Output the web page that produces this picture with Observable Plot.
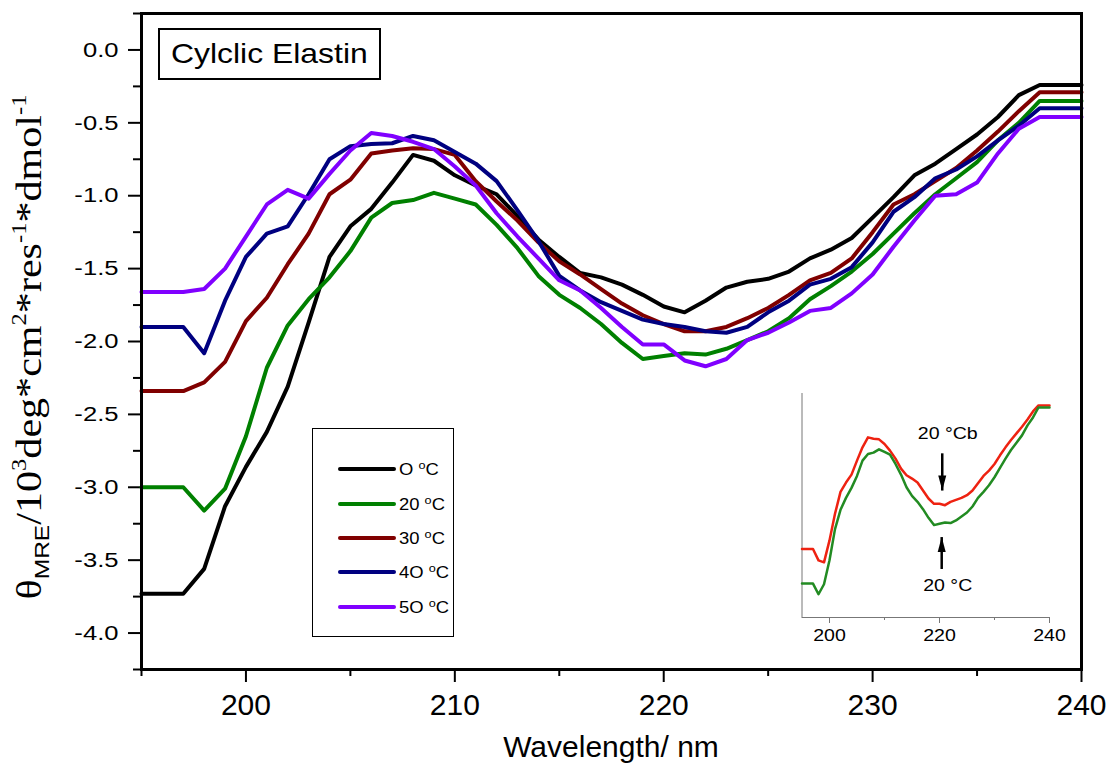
<!DOCTYPE html>
<html>
<head>
<meta charset="utf-8">
<script src="https://cdn.jsdelivr.net/npm/d3@7"></script>
<script src="https://cdn.jsdelivr.net/npm/@observablehq/plot@0.6"></script>
<style>
  body { margin: 0; background: #fff; }
  #chart { position: relative; width: 1111px; height: 768px; font-family: "Liberation Sans", Arial, sans-serif; color: #000; }
  #chart > svg { position: absolute; left: 0; top: 0; }
  .title-box { position: absolute; left: 158px; top: 28px; width: 219px; height: 48px; border: 2px solid #000; background: #fff;
    display: flex; align-items: center; justify-content: center; font-size: 28px; }
  .title-box span { display: inline-block; transform: scaleX(1.14); }
  .legend { position: absolute; left: 312px; top: 428px; width: 140px; height: 207px; border: 1.5px solid #000; background: #fff; }
  .legend .item { position: absolute; left: 25px; height: 20px; display: flex; align-items: center; }
  .legend .item span { font-size: 16px; margin-left: 3px; display: inline-block; transform: scaleX(1.15); transform-origin: left center; white-space: nowrap; }
  .inset { position: absolute; left: 770px; top: 385px; width: 330px; height: 265px; }
  .inset svg { display: block; }
</style>
</head>
<body>
<div id="chart"></div>
<script>
// Wavelength grid (nm)
const wavelength = [195,196,197,198,199,200,201,202,203,204,205,206,207,208,209,210,211,212,213,214,215,216,217,
  218,219,220,221,222,223,224,225,226,227,228,229,230,231,232,233,234,235,236,237,238,239,240];

// Mean residue ellipticity, 10^3 deg·cm²·res⁻¹·dmol⁻¹
const theta0 = [-3.73,-3.73,-3.73,-3.56,-3.13,-2.86,-2.62,-2.31,-1.87,-1.42,-1.21,-1.09,-0.91,-0.72,-0.76,-0.86,-0.93,
  -0.99,-1.14,-1.30,-1.42,-1.53,-1.56,-1.61,-1.68,-1.76,-1.80,-1.72,-1.63,-1.59,-1.57,-1.52,-1.43,-1.37,-1.29,-1.15,
  -1.01,-0.86,-0.78,-0.68,-0.58,-0.46,-0.31,-0.24,-0.24,-0.24];
const theta20 = [-3.00,-3.00,-3.00,-3.16,-3.01,-2.65,-2.18,-1.89,-1.71,-1.56,-1.38,-1.15,-1.05,-1.03,-0.98,-1.02,-1.06,
  -1.20,-1.36,-1.55,-1.68,-1.77,-1.88,-2.01,-2.12,-2.10,-2.08,-2.09,-2.05,-1.99,-1.93,-1.84,-1.71,-1.62,-1.52,-1.40,
  -1.26,-1.12,-0.99,-0.88,-0.77,-0.62,-0.50,-0.35,-0.35,-0.35];
const theta30 = [-2.34,-2.34,-2.34,-2.28,-2.14,-1.86,-1.70,-1.47,-1.26,-0.99,-0.89,-0.71,-0.69,-0.675,-0.68,-0.72,-0.90,
  -1.04,-1.17,-1.32,-1.45,-1.54,-1.64,-1.74,-1.82,-1.88,-1.93,-1.93,-1.90,-1.84,-1.77,-1.68,-1.58,-1.53,-1.43,-1.25,
  -1.06,-0.99,-0.90,-0.81,-0.69,-0.56,-0.42,-0.29,-0.29,-0.29];
const theta40 = [-1.90,-1.90,-1.90,-2.08,-1.72,-1.42,-1.26,-1.21,-0.99,-0.75,-0.66,-0.645,-0.64,-0.59,-0.62,-0.70,-0.78,
  -0.90,-1.10,-1.31,-1.55,-1.65,-1.73,-1.79,-1.85,-1.88,-1.90,-1.93,-1.94,-1.90,-1.80,-1.72,-1.61,-1.57,-1.49,-1.32,
  -1.11,-1.01,-0.88,-0.82,-0.73,-0.62,-0.52,-0.40,-0.40,-0.40];
const theta50 = [-1.66,-1.66,-1.66,-1.64,-1.50,-1.28,-1.06,-0.96,-1.02,-0.85,-0.69,-0.57,-0.59,-0.63,-0.68,-0.80,-0.93,
  -1.12,-1.28,-1.43,-1.58,-1.65,-1.77,-1.90,-2.02,-2.02,-2.13,-2.17,-2.12,-1.99,-1.94,-1.87,-1.79,-1.77,-1.67,-1.54,
  -1.35,-1.17,-1.00,-0.99,-0.91,-0.71,-0.54,-0.46,-0.46,-0.46];
// Second 20 °C scan (shown in the inset against the first one)
const theta20b = [-2.48,-2.48,-2.48,-2.65,-2.68,-2.35,-1.95,-1.62,-1.48,-1.36,-1.15,-0.95,-0.80,-0.82,-0.83,-0.90,-1.00,
  -1.12,-1.27,-1.37,-1.42,-1.48,-1.60,-1.72,-1.80,-1.80,-1.82,-1.77,-1.74,-1.71,-1.67,-1.60,-1.49,-1.38,-1.30,-1.20,
  -1.07,-0.95,-0.84,-0.74,-0.64,-0.53,-0.41,-0.32,-0.32,-0.32];

const seriesLabels = ["O °C", "20 °C", "30 °C", "4O °C", "5O °C"];
const seriesColors = ["#000000", "#008000", "#800000", "#000080", "#8000ff"];
const seriesValues = [theta0, theta20, theta30, theta40, theta50];

const insetLabels = ["20 °Cb", "20 °C"];
const insetColors = ["#ee2211", "#228b22"];
const insetValues = [theta20b, theta20];

// Axis ticks
const xMajor = [200, 210, 220, 230, 240];
const xMinor = [195, 205, 215, 225, 235];
const yMajor = [0, -0.5, -1, -1.5, -2, -2.5, -3, -3.5, -4];
const yMinor = [0.25, -0.25, -0.75, -1.25, -1.75, -2.25, -2.75, -3.25, -3.75, -4.25];
const insetMajor = [200, 220, 240];
const insetMinor = [210, 230];

// Inset arrow annotations: label position, arrow shaft from → to (tip)
const insetNotes = [
  {text: "20 °Cb", x: 221.5, y: -0.74, ax: 220.5, from: -1.04, to: -1.60, dir: "down"},
  {text: "20 °C",  x: 221.5, y: -3.03, ax: 220.4, from: -2.78, to: -2.30, dir: "up"}
];

const rows = seriesValues.flatMap((vals, k) => wavelength.map((w, i) => ({w, v: vals[i], s: seriesLabels[k]})));
const insetRows = insetValues.flatMap((vals, k) => wavelength.map((w, i) => ({w, v: vals[i], s: insetLabels[k]})));

const chart = document.getElementById("chart");

const main = Plot.plot({
  width: 1111, height: 768,
  marginLeft: 141, marginRight: 30, marginTop: 13, marginBottom: 99,
  style: {background: "transparent", color: "#000", fontFamily: "'Liberation Sans', Arial, sans-serif", overflow: "visible"},
  x: {domain: [195, 240]},
  y: {domain: [-4.25, 0.25]},
  color: {domain: seriesLabels, range: seriesColors},
  marks: [
    Plot.axisY({ticks: yMajor, tickSize: 13, tickPadding: 10, strokeWidth: 2, fontSize: 21, tickFormat: d => d.toFixed(1), label: null}),
    Plot.axisY({ticks: yMinor, tickSize: 8, strokeWidth: 2, tickFormat: () => "", label: null}),
    Plot.axisX({ticks: xMajor, tickSize: 13, tickPadding: 11, strokeWidth: 2, fontSize: 30, label: null}),
    Plot.axisX({ticks: xMinor, tickSize: 7, strokeWidth: 2, tickFormat: () => "", label: null}),
    Plot.line(rows, {x: "w", y: "v", stroke: "s", z: "s", strokeWidth: 4, strokeLinejoin: "round"}),
    Plot.frame({stroke: "#000", strokeWidth: 3})
  ]
});
chart.appendChild(main);

// Stretch text horizontally about its own anchor
function stretch(nodes, k) {
  nodes.each(function () {
    const t = this.getAttribute("transform");
    if (t) this.setAttribute("transform", t + ` scale(${k},1)`);
    else {
      const x = +this.getAttribute("x") || 0, y = +this.getAttribute("y") || 0;
      this.setAttribute("transform", `translate(${x},${y}) scale(${k},1) translate(${-x},${-y})`);
    }
  });
}
const msvg = d3.select(main);
stretch(msvg.selectAll('g[aria-label="y-axis tick label"] text'), 1.22);

// X axis title
msvg.append("text")
  .attr("x", 611).attr("y", 757)
  .attr("text-anchor", "middle")
  .attr("fill", "#000")
  .style("font-family", "'Liberation Sans', Arial, sans-serif")
  .style("font-size", "30px")
  .text("Wavelength/ nm");

// Y axis title: θ_MRE / 10^3 deg*cm^2*res^-1*dmol^-1
const serif = "'Liberation Serif', 'Times New Roman', serif";
const yt = msvg.append("text")
  .attr("transform", "translate(41,347) rotate(-90) scale(1.17,1)")
  .attr("text-anchor", "middle")
  .attr("fill", "#000")
  .style("font-family", serif)
  .style("font-size", "36px");
const parts = [
  {t: "θ"},
  {t: "MRE", size: 21, dy: 8, sans: true},
  {t: "/10", dy: -8},
  {t: "3", size: 21, dy: -15},
  {t: "deg*cm", dy: 15},
  {t: "2", size: 21, dy: -15},
  {t: "*res", dy: 15},
  {t: "-1", size: 21, dy: -15},
  {t: "*dmol", dy: 15},
  {t: "-1", size: 21, dy: -15}
];
parts.forEach(p => {
  const ts = yt.append("tspan").text(p.t);
  if (p.dy) ts.attr("dy", p.dy);
  if (p.size) ts.style("font-size", p.size + "px");
  if (p.sans) ts.style("font-family", "'Liberation Sans', Arial, sans-serif");
});

// Title box
const title = document.createElement("div");
title.className = "title-box";
title.innerHTML = "<span>Cylclic Elastin</span>";
chart.appendChild(title);

// Legend
const legend = d3.select(chart).append("div").attr("class", "legend");
const legendY = [40, 75, 109, 143, 178];
seriesLabels.forEach((lab, i) => {
  const item = legend.append("div").attr("class", "item").style("top", (legendY[i] - 10) + "px");
  const sw = item.append("svg").attr("width", 58).attr("height", 8);
  sw.append("line").attr("x1", 2).attr("x2", 56).attr("y1", 4).attr("y2", 4)
    .attr("stroke", seriesColors[i]).attr("stroke-width", 4).attr("stroke-linecap", "round");
  item.append("span").html(lab.replace("°", "<sup style='font-size:11px'>o</sup>"));
});

// Arrowheads as custom symbols: tip at the anchor point
const headDown = {draw(ctx) { ctx.moveTo(-4, -15); ctx.lineTo(4, -15); ctx.lineTo(0, 0); ctx.closePath(); }};
const headUp = {draw(ctx) { ctx.moveTo(-4, 15); ctx.lineTo(4, 15); ctx.lineTo(0, 0); ctx.closePath(); }};

// Inset: two 20 °C scans (no y axis, only the plain left line)
const inset = Plot.plot({
  width: 330, height: 265,
  marginLeft: 31.5, marginRight: 51, marginTop: 8, marginBottom: 33,
  style: {background: "transparent", color: "#000", fontFamily: "'Liberation Sans', Arial, sans-serif", overflow: "visible"},
  x: {domain: [195, 240]},
  y: {domain: [-3.51, -0.14], axis: null},
  color: {domain: insetLabels, range: insetColors},
  marks: [
    Plot.ruleX([195], {stroke: "#777", strokeWidth: 1}),
    Plot.ruleY([-3.51], {stroke: "#777", strokeWidth: 1}),
    Plot.axisX({ticks: insetMajor, tickSize: 6, tickPadding: 5, stroke: "#777", strokeWidth: 1, fontSize: 17, label: null}),
    Plot.axisX({ticks: insetMinor, tickSize: 3, stroke: "#777", strokeWidth: 1, tickFormat: () => "", label: null}),
    Plot.line(insetRows, {x: "w", y: "v", stroke: "s", z: "s", strokeWidth: 2.5}),
    Plot.link(insetNotes, {x1: "ax", x2: "ax", y1: "from", y2: "to", stroke: "#000", strokeWidth: 2.5}),
    Plot.dot(insetNotes.filter(d => d.dir === "down"), {x: "ax", y: "to", symbol: headDown, fill: "#000", stroke: "none"}),
    Plot.dot(insetNotes.filter(d => d.dir === "up"), {x: "ax", y: "to", symbol: headUp, fill: "#000", stroke: "none"}),
    Plot.text(insetNotes, {x: "x", y: "y", text: "text", fontSize: 17, fill: "#000"})
  ]
});
const insetBox = document.createElement("div");
insetBox.className = "inset";
insetBox.appendChild(inset);
chart.appendChild(insetBox);
stretch(d3.select(inset).selectAll('g[aria-label="x-axis tick label"] text'), 1.15);
stretch(d3.select(inset).selectAll('g[aria-label="text"] text'), 1.15);
</script>
</body>
</html>
